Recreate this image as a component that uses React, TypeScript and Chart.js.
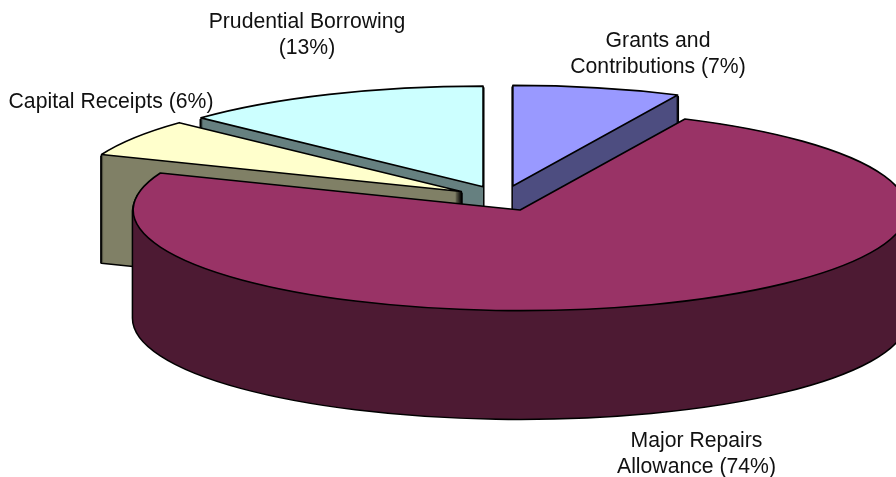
import React, { useEffect, useRef } from "react";
import { Chart, registerables } from "chart.js";

Chart.register(...registerables);

const categories = ["Grants and Contributions", "Major Repairs Allowance", "Capital Receipts", "Prudential Borrowing"];
const shares = [7, 74, 6, 13];
const topColors = ["#9999ff", "#993366", "#ffffcc", "#ccffff"];
const wallColors = ["#4d4d80", "#4d1a33", "#808066", "#668080"];
const wallOrder = [3, 0, 2, 1];

const labelLines = [
  ["Grants and", "Contributions (7%)"],
  ["Major Repairs", "Allowance (74%)"],
  ["Capital Receipts (6%)"],
  ["Prudential Borrowing", "(13%)"],
];
const labelAnchors = [
  { x: 658, y: 47 },
  { x: 696.5, y: 447 },
  { x: 111, y: 108 },
  { x: 307, y: 28 },
];

const WIDTH = 896;
const HEIGHT = 477;
const CENTER_X = 502.3;
const CENTER_Y = 198.3;
const TILT = 0.26;
const DEPTH = 108;
const EXPLODE = 48.5;
const RADIUS = 387;
const LINE_HEIGHT = 26;

function sliceOrigin(arc: any) {
  const mid = (arc.startAngle + arc.endAngle) / 2;
  return {
    x: CENTER_X + Math.cos(mid) * EXPLODE,
    y: CENTER_Y + Math.sin(mid) * EXPLODE * TILT,
  };
}

function addSlice(ctx: CanvasRenderingContext2D, arc: any, dy: number) {
  const o = sliceOrigin(arc);
  const r = arc.outerRadius;
  ctx.moveTo(o.x, o.y + dy);
  ctx.ellipse(o.x, o.y + dy, r, r * TILT, 0, arc.startAngle, arc.endAngle);
  ctx.closePath();
}

function addSweep(ctx: CanvasRenderingContext2D, arc: any, fromDy: number) {
  ctx.beginPath();
  for (let dy = DEPTH; dy >= fromDy; dy--) addSlice(ctx, arc, dy);
}

const pie3d = {
  id: "pie3d",
  beforeDatasetDraw() {
    // Slices are drawn below, each through its own tilted and exploded transform.
    return false;
  },
  afterDatasetsDraw(chart: any) {
    const ctx: CanvasRenderingContext2D = chart.ctx;
    const arcs = chart.getDatasetMeta(0).data;
    ctx.save();
    ctx.lineJoin = "round";
    ctx.strokeStyle = "#000";
    ctx.lineWidth = 3;
    for (const i of wallOrder) {
      addSweep(ctx, arcs[i], 2);
      ctx.stroke();
      ctx.fillStyle = wallColors[i];
      addSweep(ctx, arcs[i], 0);
      ctx.fill();
    }
    arcs.forEach((arc: any) => {
      const o = sliceOrigin(arc);
      ctx.save();
      ctx.translate(o.x, o.y);
      ctx.scale(1, TILT);
      ctx.translate(-arc.x, -arc.y);
      arc.draw(ctx);
      ctx.restore();
    });
    ctx.lineWidth = 1.6;
    arcs.forEach((arc: any) => {
      ctx.beginPath();
      addSlice(ctx, arc, 0);
      ctx.stroke();
    });
    ctx.restore();
  },
  afterDraw(chart: any) {
    const ctx: CanvasRenderingContext2D = chart.ctx;
    ctx.save();
    ctx.fillStyle = "#111";
    ctx.font = '21.2px "Liberation Sans", Arial, sans-serif';
    ctx.textAlign = "center";
    ctx.textBaseline = "alphabetic";
    labelLines.forEach((lines, i) => {
      lines.forEach((line, j) => {
        ctx.fillText(line, labelAnchors[i].x, labelAnchors[i].y + j * LINE_HEIGHT);
      });
    });
    ctx.restore();
  },
};

export default function App() {
  const ref = useRef<HTMLCanvasElement>(null);
  useEffect(() => {
    document.body.style.margin = "0";
    const chart = new Chart(ref.current as HTMLCanvasElement, {
      type: "pie",
      data: {
        labels: categories,
        datasets: [
          {
            data: shares,
            backgroundColor: topColors,
            borderWidth: 0,
            hoverOffset: 0,
          } as any,
        ],
      },
      options: {
        responsive: false,
        animation: false,
        radius: RADIUS,
        layout: { padding: 0 },
        events: [],
        plugins: {
          legend: { display: false },
          tooltip: { enabled: false },
          title: { display: false },
        },
      } as any,
      plugins: [pie3d],
    });
    return () => chart.destroy();
  }, []);
  return (
    <canvas
      ref={ref}
      width={WIDTH}
      height={HEIGHT}
      style={{ display: "block", width: WIDTH, height: HEIGHT }}
    />
  );
}
